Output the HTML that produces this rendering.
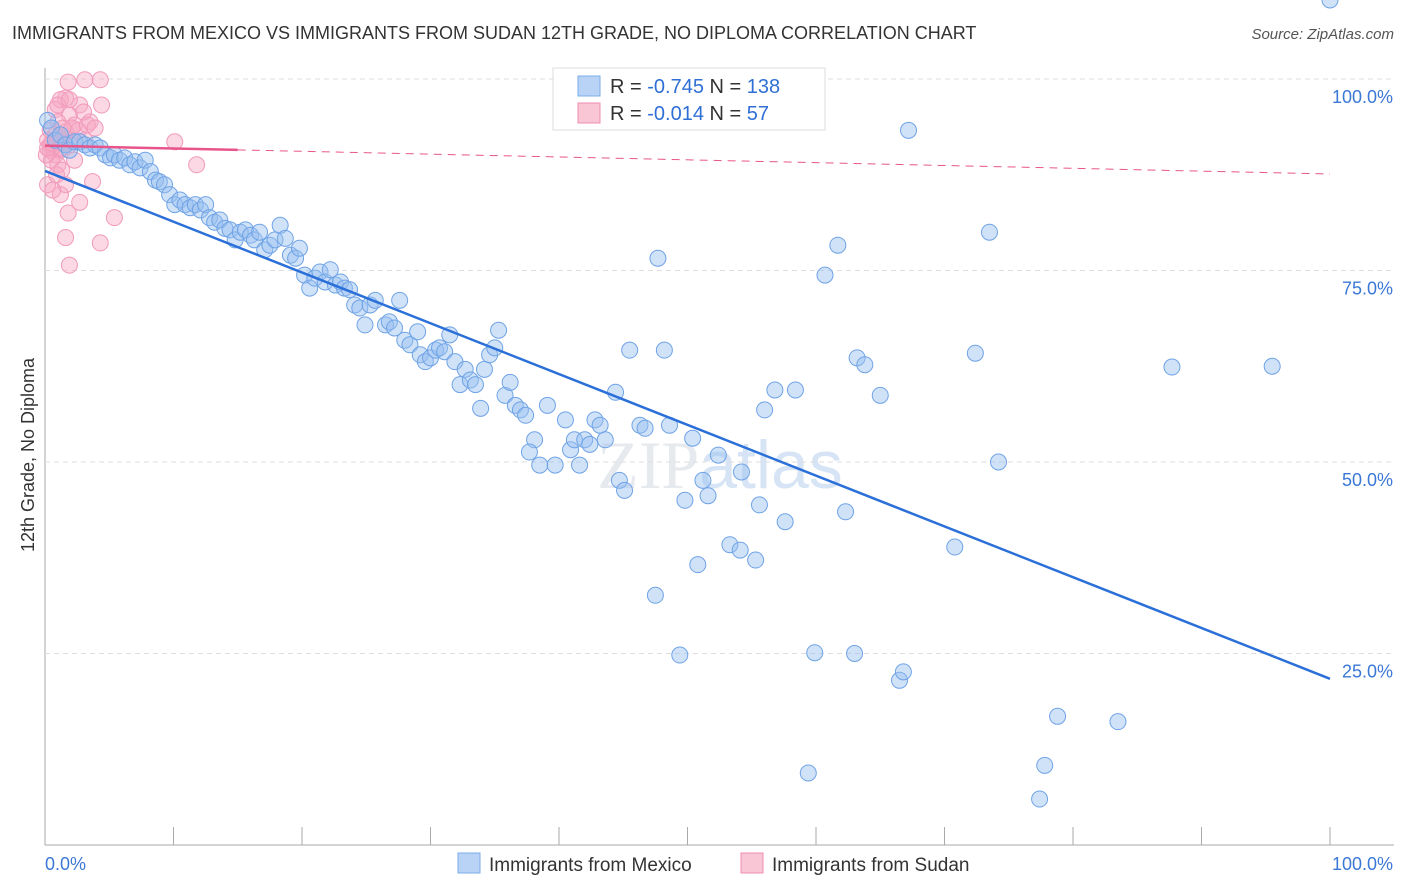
<!DOCTYPE html>
<html><head><meta charset="utf-8"><style>
body{margin:0;background:#fff;font-family:"Liberation Sans",sans-serif;}
#wrap{position:relative;width:1406px;height:892px;overflow:hidden;}
</style></head><body><div id="wrap">
<svg id="svg" width="1406" height="892" xmlns="http://www.w3.org/2000/svg">
<text x="12" y="39" font-size="18" fill="#333">IMMIGRANTS FROM MEXICO VS IMMIGRANTS FROM SUDAN 12TH GRADE, NO DIPLOMA CORRELATION CHART</text>
<text x="1394" y="39" font-size="15" fill="#555" font-style="italic" text-anchor="end">Source: ZipAtlas.com</text>
<text x="720" y="488" font-size="68" fill="#e6e9ee" text-anchor="middle" font-family="Liberation Serif,serif">ZIP<tspan fill="#d6e4f5" font-family="Liberation Sans,sans-serif">atlas</tspan></text>
<g id="grid"></g><g id="pts"></g><g id="lines"></g>
<text transform="translate(34,455) rotate(-90)" font-size="18" fill="#333" text-anchor="middle">12th Grade, No Diploma</text>
<g>
<rect x="553" y="68" width="272" height="62" fill="#fff" stroke="#ddd"/>
<rect x="578" y="76" width="22" height="20" fill="#b8d3f5" stroke="#7aaee8"/>
<rect x="578" y="103" width="22" height="20" fill="#f9c6d6" stroke="#f08cb0"/>
<text x="610" y="93" font-size="20" fill="#333">R = <tspan fill="#2f6fd6">-0.745</tspan>   N = <tspan fill="#2f6fd6">138</tspan></text>
<text x="610" y="120" font-size="20" fill="#333">R = <tspan fill="#2f6fd6">-0.014</tspan>   N =  <tspan fill="#2f6fd6"> 57</tspan></text>
</g>
<g>
<rect x="458" y="853" width="22" height="20" fill="#b8d3f5" stroke="#7aaee8"/>
<text x="489" y="871" font-size="19" fill="#333">Immigrants from Mexico</text>
<rect x="741" y="853" width="22" height="20" fill="#f9c6d6" stroke="#f08cb0"/>
<text x="772" y="871" font-size="19" fill="#333">Immigrants from Sudan</text>
</g>
</svg></div>
<script>
const mexX=[0.2,0.5,0.8,1.2,1.6,1.9,2.3,2.7,3.1,3.5,3.9,4.3,4.7,5.1,5.4,5.8,6.2,6.6,7.0,7.4,7.8,8.2,8.6,8.9,9.3,9.7,10.1,10.5,10.9,11.3,11.7,12.1,12.5,12.8,13.2,13.6,14.0,14.4,14.8,15.2,15.6,16.0,16.3,16.7,17.1,17.5,17.9,18.3,18.7,19.1,19.5,19.8,20.2,20.6,21.0,21.4,21.8,22.2,22.6,23.0,23.3,23.7,24.1,24.5,24.9,25.3,25.7,26.5,26.8,27.2,27.6,28.0,28.4,29.0,29.2,29.6,30.0,30.4,30.7,31.1,31.5,31.9,32.3,32.7,33.1,33.5,33.9,34.2,34.6,35.0,35.3,35.8,36.2,36.6,37.0,37.4,38.1,37.7,38.5,39.1,39.7,40.5,40.9,41.2,41.6,42.0,42.4,42.8,43.2,43.6,44.4,44.7,45.1,45.5,46.3,46.7,47.5,47.7,48.2,48.6,49.4,49.8,50.4,50.8,51.2,51.6,52.4,53.3,54.1,54.2,55.3,55.6,56.0,56.8,57.6,58.4,59.4,59.9,60.7,61.7,62.3,63.0,63.2,63.8,65.0,66.5,66.8,67.2,70.8,72.4,73.5,74.2,77.4,77.8,78.8,83.5,87.7,95.5,100];
const mexY=[94.6,93.6,92.0,92.7,91.4,90.7,91.8,91.8,91.4,91.0,91.4,91.0,90.1,89.7,90.1,89.4,89.7,88.8,89.2,88.4,89.4,87.9,86.8,86.6,86.2,84.9,83.6,84.2,83.6,83.2,83.6,82.9,83.6,81.9,81.3,81.6,80.5,80.3,79.0,80.0,80.3,79.6,79.0,80.0,77.7,78.3,79.0,80.9,79.2,77.0,76.6,77.9,74.4,72.7,74.0,74.8,73.5,75.1,73.1,73.5,72.7,72.5,70.5,70.1,67.9,70.5,71.1,67.9,68.3,67.5,71.1,65.9,65.3,67.0,64.0,63.1,63.6,64.6,64.9,64.4,66.6,63.1,60.1,62.1,60.7,60.1,57.0,62.1,64.0,64.9,67.2,58.7,60.4,57.4,56.8,56.1,52.9,51.3,49.6,57.4,49.6,55.5,51.6,52.9,49.6,52.9,52.3,55.5,54.8,52.9,59.1,47.6,46.3,64.6,54.8,54.4,32.6,76.6,64.6,54.8,24.8,45.0,53.1,36.6,47.6,45.6,50.9,39.2,38.5,48.7,37.2,44.4,56.8,59.4,42.2,59.4,9.4,25.1,74.4,78.3,43.5,25.0,63.6,62.7,58.7,21.5,22.6,93.3,38.9,64.2,80.0,50.0,6.0,10.4,16.8,16.1,62.4,62.5];
const sudX=[1.8,3.1,4.3,1.6,2.7,4.4,1.2,0.8,1.9,3.5,2.3,0.4,0.8,1.2,1.6,0.4,0.8,1.2,1.9,0.5,1.0,1.6,3.7,1.2,2.7,1.8,5.4,1.6,4.3,1.9,10.1,11.8,0.2,0.4,0.6,0.9,1.3,1.6,2.1,2.6,3.0,1.0,1.4,0.1,0.2,0.6,0.9,1.3,2.3,3.1,3.3,3.9,1.0,1.9,0.2,0.5,1.3];
const sudY=[99.6,99.9,99.9,97.5,96.6,96.6,97.3,96.0,95.3,94.4,94.0,93.3,92.7,92.0,91.4,90.7,90.1,90.7,91.4,89.4,88.8,86.2,86.6,84.9,83.9,82.5,81.9,79.3,78.6,75.7,91.8,88.8,92.0,91.4,91.0,91.8,92.3,93.1,93.6,93.3,95.7,94.4,93.6,90.1,86.2,85.5,87.5,88.1,89.4,92.0,94.0,93.6,96.6,97.3,91.0,91.6,91.0];
const yTicks=[100,75,50,25];
const yTickLabels=["100.0%","75.0%","50.0%","25.0%"];
const xTicks=[0,10,20,30,40,50,60,70,80,90,100];
const mexTrend=[88.0,21.7];
const sudTrend=[91.3,87.6];
const NS="http://www.w3.org/2000/svg";
const X=v=>45+v*12.85, Y=v=>845-v*7.66;
function mk(p,t,a){const e=document.createElementNS(NS,t);for(const k in a)e.setAttribute(k,a[k]);p.appendChild(e);return e;}
const g=document.getElementById('grid');
let ax=mk(g,'line',{x1:45,y1:68,x2:45,y2:845,stroke:'#aaa'});


let bx=mk(g,'line',{x1:45,y1:845,x2:1394,y2:845,stroke:'#aaa'});


yTicks.forEach((t,i)=>{
 const l=mk(g,'line',{x1:45,y1:Y(t),x2:1394,y2:Y(t),stroke:'#ddd','stroke-dasharray':'5,4'});
 
 
 const tx=mk(g,'text',{x:1393,y:Y(t)+24,'font-size':18,fill:'#3b78d6','text-anchor':'end'});tx.textContent=yTickLabels[i];
 
 
});
xTicks.forEach(t=>{
 const l=mk(g,'line',{x1:X(t),y1:827,x2:X(t),y2:845,stroke:'#aaa'});
 
 
});
let x0=mk(g,'text',{x:45,y:870,'font-size':18,fill:'#3b78d6'});x0.textContent='0.0%';


let x1=mk(g,'text',{x:1393,y:870,'font-size':18,fill:'#3b78d6','text-anchor':'end'});x1.textContent='100.0%';


const pg=document.getElementById('pts');
sudX.forEach((v,i)=>{const c=mk(pg,'circle',{cx:X(v),cy:Y(sudY[i]),r:8,fill:'rgba(246,168,196,0.45)',stroke:'#f19abb','stroke-width':1});
 
 });
mexX.forEach((v,i)=>{const c=mk(pg,'circle',{cx:X(v),cy:Y(mexY[i]),r:8,fill:'rgba(150,190,240,0.45)',stroke:'#6fa3e6','stroke-width':1});
 
 });
const lg=document.getElementById('lines');
let m=mk(lg,'line',{x1:X(0),y1:Y(mexTrend[0]),x2:X(100),y2:Y(mexTrend[1]),stroke:'#2b6fd8','stroke-width':2.5});


const sAt=v=>sudTrend[0]+(sudTrend[1]-sudTrend[0])*v/100;
let s1=mk(lg,'line',{x1:X(0),y1:Y(sAt(0)),x2:X(15),y2:Y(sAt(15)),stroke:'#e8558a','stroke-width':2.5});


let s2=mk(lg,'line',{x1:X(15),y1:Y(sAt(15)),x2:X(100),y2:Y(sAt(100)),stroke:'#e8558a','stroke-width':1,'stroke-dasharray':'8,6'});


</script></body></html>
